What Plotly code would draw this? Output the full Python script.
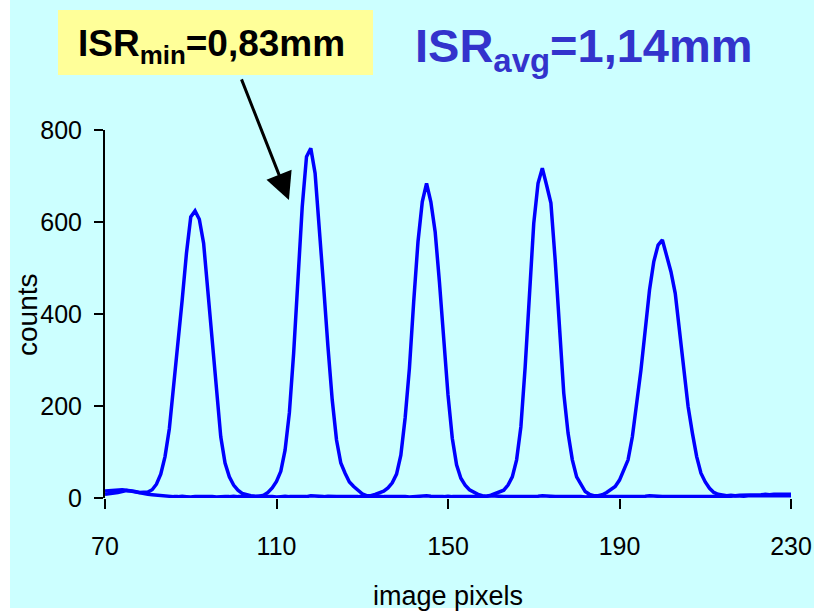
import plotly.graph_objects as go

# ---------------- data ----------------
pixels = list(range(70, 231))

counts_peaks = [
    15, 16, 17, 18, 18, 17, 16, 14, 12, 12,
    13, 18, 30, 52, 90, 150, 242, 329, 430, 532,
    611, 624, 606, 554, 445, 329, 220, 133, 76, 46,
    28, 17, 10, 7, 5, 4, 4, 6, 12, 22,
    36, 58, 104, 185, 315, 474, 633, 742, 760, 706,
    590, 459, 329, 213, 126, 76, 54, 35, 25, 17,
    9, 5, 5, 8, 11, 15, 22, 33, 52, 93,
    174, 282, 427, 557, 644, 684, 644, 579, 470, 340,
    224, 130, 72, 43, 28, 18, 12, 8, 5, 4,
    6, 9, 12, 17, 28, 46, 83, 155, 285, 452,
    597, 684, 717, 680, 641, 517, 358, 228, 141, 83,
    46, 28, 14, 8, 5, 5, 7, 12, 18, 25,
    39, 61, 83, 133, 199, 278, 365, 452, 514, 550,
    561, 525, 492, 445, 365, 278, 199, 141, 90, 54,
    35, 21, 12, 8, 6, 5, 6, 5, 6, 6,
    7, 6, 7, 7, 8, 7, 8, 8, 7, 8,
    8,
]

counts_background = [
    8, 9, 10, 12, 14, 16, 15, 13, 11, 9, 8, 7, 6, 5, 4,
    4, 3, 3, 4, 3, 2, 3, 3, 4, 3,
    3, 2, 3, 3, 3, 4, 3, 3, 2, 3,
    3, 4, 3, 3, 3, 2, 3, 4, 3, 3,
    4, 3, 3, 5, 4, 3, 3, 4, 3, 3,
    3, 3, 2, 3, 3, 4, 3, 3, 3, 4,
    3, 3, 4, 3, 3, 3, 2, 3, 3, 4,
    5, 4, 3, 3, 3, 4, 3, 3, 3, 3,
    4, 3, 3, 3, 4, 5, 4, 3, 3, 3,
    3, 3, 4, 3, 3, 3, 4, 5, 4, 3,
    3, 3, 3, 4, 3, 3, 3, 2, 3, 3,
    3, 4, 3, 3, 3, 3, 4, 3, 3, 3,
    3, 4, 5, 4, 3, 3, 3, 3, 4, 3,
    3, 3, 3, 4, 3, 3, 3, 4, 4, 4,
    4, 4, 5, 4, 4, 5, 5, 4, 5, 5,
    5, 5, 4, 5, 5, 5,
]

x_ticks = [70, 110, 150, 190, 230]
y_ticks = [0, 200, 400, 600, 800]

title_text = "ISR<sub>avg</sub>=1,14mm"
box_text = "ISR<sub>min</sub>=0,83mm"
x_title = "image pixels"
y_title = "counts"

# ---------------- layout helpers ----------------
W, H = 814, 611
ML, MR, MT, MB = 105, 23, 130, 113
PW, PH = W - ML - MR, H - MT - MB


def px(xp):
    return (xp - ML) / PW


def py(yp):
    return (H - MB - yp) / PH


FONT = "Arial, Liberation Sans, sans-serif"
BLUE = "#0000FF"
BG = "#CCFFFF"

fig = go.Figure()
fig.add_trace(go.Scatter(x=pixels, y=counts_background, mode="lines",
                         line=dict(color=BLUE, width=3.5), showlegend=False))
fig.add_trace(go.Scatter(x=pixels, y=counts_peaks, mode="lines",
                         line=dict(color=BLUE, width=3.5), showlegend=False))

shapes = [
    # white strips at left and bottom edge
    dict(type="rect", xref="paper", yref="paper", x0=px(0), x1=px(10),
         y0=py(H), y1=py(0), fillcolor="white", line_width=0, layer="above"),
    dict(type="rect", xref="paper", yref="paper", x0=px(0), x1=px(W),
         y0=py(H), y1=py(608), fillcolor="white", line_width=0, layer="above"),
    # yellow label box
    dict(type="rect", xref="paper", yref="paper", x0=px(58), x1=px(373),
         y0=py(75), y1=py(10), fillcolor="#FFFF99", line_width=0, layer="above"),
]

annotations = [
    dict(text=title_text, xref="paper", yref="paper", x=px(413), y=py(49),
         xanchor="left", yanchor="middle", showarrow=False,
         font=dict(family=FONT, size=47, color="#3333CC", weight="bold")),
    dict(text=box_text, xref="paper", yref="paper", x=px(211), y=py(46),
         xanchor="center", yanchor="middle", showarrow=False,
         font=dict(family=FONT, size=37, color="black", weight="bold")),
    dict(text="", x=112.9, y=648, xref="x", yref="y", ax=-48, ay=-122,
         showarrow=True, arrowhead=2, arrowsize=1.8, arrowwidth=3,
         arrowcolor="black"),
    dict(text=x_title, xref="paper", yref="paper", x=0.5, y=py(596),
         xanchor="center", yanchor="middle", showarrow=False,
         font=dict(family=FONT, size=27, color="black")),
    dict(text=y_title, xref="paper", yref="paper", x=px(27), y=py(315),
         xanchor="center", yanchor="middle", showarrow=False, textangle=-90,
         font=dict(family=FONT, size=28, color="black")),
]

fig.update_layout(
    width=W, height=H,
    margin=dict(l=ML, r=MR, t=MT, b=MB, pad=0),
    paper_bgcolor=BG, plot_bgcolor=BG,
    font=dict(family=FONT, color="black"),
    shapes=shapes, annotations=annotations,
    showlegend=False,
)
fig.update_xaxes(range=[70, 230], tickvals=x_ticks, ticks="outside", ticklen=10,
                 tickwidth=2, tickcolor="black", showline=False, showgrid=False,
                 zeroline=False, tickfont=dict(size=25, family=FONT),
                 ticklabelstandoff=16, automargin=False)
fig.update_yaxes(range=[0, 800], tickvals=y_ticks, ticks="outside", ticklen=9,
                 tickwidth=2, tickcolor="black", showline=True, linecolor="black",
                 linewidth=2, showgrid=False, zeroline=False,
                 tickfont=dict(size=25, family=FONT), ticklabelstandoff=7,
                 automargin=False)

fig.write_html("out.html")
